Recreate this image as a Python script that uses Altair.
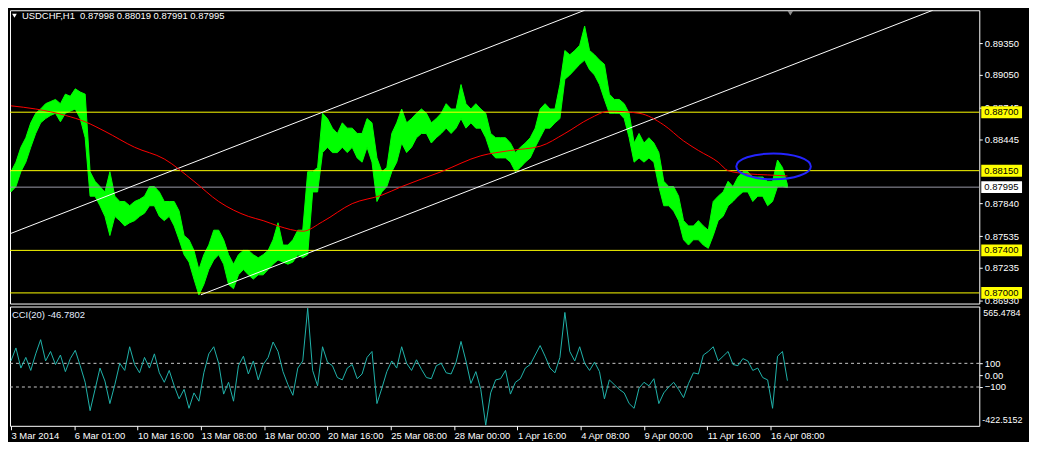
import json
import altair as alt
import pandas as pd

# ---------------- data ----------------
symbol_title = "USDCHF,H1\u00a0 0.87998 0.88019 0.87991 0.87995"

bar_index = list(range(0, 786, 5))  # hourly bar number (sampled)

price_high = [
    0.8814, 0.8823, 0.8837, 0.8846, 0.8860, 0.8869, 0.8873, 0.8878, 0.8880, 0.8882,
    0.8878, 0.8887, 0.8885, 0.8892, 0.8889, 0.8887, 0.8814, 0.8805, 0.8800, 0.8795,
    0.8814, 0.8791, 0.8786, 0.8786, 0.8782, 0.8786, 0.8788, 0.8791, 0.8800, 0.8800,
    0.8795, 0.8786, 0.8786, 0.8786, 0.8777, 0.8754, 0.8750, 0.8740, 0.8722, 0.8736,
    0.8745, 0.8759, 0.8759, 0.8750, 0.8736, 0.8727, 0.8736, 0.8740, 0.8740, 0.8736,
    0.8733, 0.8736, 0.8740, 0.8750, 0.8766, 0.8745, 0.8745, 0.8750, 0.8759, 0.8759,
    0.8814, 0.8814, 0.8818, 0.8869, 0.8864, 0.8855, 0.8850, 0.8860, 0.8855, 0.8855,
    0.8850, 0.8850, 0.8864, 0.8860, 0.8827, 0.8814, 0.8818, 0.8850, 0.8860, 0.8873,
    0.8860, 0.8864, 0.8869, 0.8873, 0.8869, 0.8860, 0.8864, 0.8869, 0.8878, 0.8873,
    0.8873, 0.8896, 0.8878, 0.8873, 0.8878, 0.8873, 0.8869, 0.8850, 0.8846, 0.8846,
    0.8846, 0.8841, 0.8832, 0.8837, 0.8841, 0.8846, 0.8855, 0.8873, 0.8878, 0.8873,
    0.8873, 0.8896, 0.8928, 0.8924, 0.8928, 0.8933, 0.8951, 0.8928, 0.8924, 0.8919,
    0.8915, 0.8887, 0.8882, 0.8882, 0.8878, 0.8869, 0.8841, 0.8850, 0.8841, 0.8846,
    0.8841, 0.8832, 0.8805, 0.8800, 0.8800, 0.8791, 0.8768, 0.8763, 0.8763, 0.8768,
    0.8763, 0.8759, 0.8786, 0.8791, 0.8795, 0.8805, 0.8800, 0.8809, 0.8814, 0.8814,
    0.8809, 0.8809, 0.8809, 0.8805, 0.8805, 0.8825, 0.8818, 0.88019,
]
price_low = [
    0.8795, 0.8800, 0.8814, 0.8823, 0.8837, 0.8850, 0.8860, 0.8864, 0.8867, 0.8869,
    0.8861, 0.8869, 0.8871, 0.8873, 0.8864, 0.8846, 0.8791, 0.8791, 0.8782, 0.8772,
    0.8754, 0.8772, 0.8768, 0.8763, 0.8766, 0.8768, 0.8772, 0.8775, 0.8782, 0.8782,
    0.8772, 0.8768, 0.8772, 0.8763, 0.8750, 0.8736, 0.8729, 0.8713, 0.8698, 0.8708,
    0.8722, 0.8731, 0.8736, 0.8727, 0.8708, 0.8704, 0.8717, 0.8722, 0.8717, 0.8713,
    0.8717, 0.8717, 0.8722, 0.8727, 0.8731, 0.8729, 0.8727, 0.8729, 0.8736, 0.8733,
    0.8736, 0.8795, 0.8795, 0.8832, 0.8837, 0.8832, 0.8832, 0.8837, 0.8832, 0.8837,
    0.8827, 0.8823, 0.8837, 0.8823, 0.8786, 0.8795, 0.8800, 0.8814, 0.8823, 0.8841,
    0.8832, 0.8837, 0.8846, 0.8850, 0.8850, 0.8841, 0.8846, 0.8850, 0.8855, 0.8850,
    0.8855, 0.8864, 0.8855, 0.8860, 0.8855, 0.8855, 0.8846, 0.8832, 0.8827, 0.8827,
    0.8827, 0.8823, 0.8814, 0.8818, 0.8823, 0.8827, 0.8837, 0.8846, 0.8855, 0.8855,
    0.8860, 0.8864, 0.8901, 0.8905, 0.8910, 0.8915, 0.8919, 0.8910, 0.8905, 0.8896,
    0.8882, 0.8869, 0.8869, 0.8869, 0.8864, 0.8846, 0.8823, 0.8827, 0.8823, 0.8827,
    0.8823, 0.8800, 0.8782, 0.8782, 0.8777, 0.8768, 0.8750, 0.8745, 0.8750, 0.8750,
    0.8745, 0.8742, 0.8754, 0.8768, 0.8772, 0.8782, 0.8786, 0.8791, 0.8795, 0.8795,
    0.8786, 0.8791, 0.8791, 0.8782, 0.8786, 0.8800, 0.8800, 0.87991,
]

ma_index = [0, 25, 55, 75, 95, 125, 155, 185, 210, 240, 255, 270, 295, 315, 345,
            375, 395, 435, 475, 505, 535, 560, 585, 605, 635, 660, 680, 695, 715,
            725, 745, 765, 785]
ma_values = [0.8876, 0.8873, 0.8867, 0.8861, 0.8852, 0.8837, 0.8826, 0.8805, 0.8786,
             0.8772, 0.8768, 0.8763, 0.8758, 0.8767, 0.8784, 0.8792, 0.8800, 0.8814,
             0.8829, 0.8834, 0.8838, 0.8850, 0.8864, 0.8871, 0.8869, 0.8858, 0.8843,
             0.8834, 0.8823, 0.8815, 0.8812, 0.8811, 0.8810]

channel_name = ["upper", "upper", "lower", "lower"]
channel_index = [0, 580, 192, 932]
channel_price = [0.8756, 0.89659, 0.86982, 0.89659]

level_prices = [0.8870, 0.8815, 0.8740, 0.8700]
bid_price = 0.87995
ellipse_index = [771]
ellipse_price = [0.8819]

price_ticks = [0.8935, 0.8905, 0.88745, 0.88445, 0.8784, 0.87535, 0.87235, 0.8693]

cci_values = [
    120, 230, 60, 150, 40, 180, 300, 120, 200, 90,
    170, 30, 140, 210, 80, -60, -300, -120, 60, -50,
    -240, -80, 100, 40, 240, 90, 20, 150, 60, 180,
    20, -60, 40, -90, -200, -120, -280, -150, -220, 20,
    180, 240, 100, -160, -60, -220, 80, 160, 10, 120,
    -40, 90, 150, 280, 200, 30, -80, -170, 60, 120,
    565.4784, 40, -90, 240, 110, 80, -20, -40, 60, 90,
    -30, 10, 150, 200, -240, -110, 30, 120, 60, 240,
    100, 40, 130, 50, -20, -30, 80, 100, 20, 10,
    110, 285, 120, -70, 30, -120, -422.5152, -150, -40, -30,
    40, -160, -60, -30, 60, 90, 170, 250, 160, 60,
    20, 150, 530, 200, 120, 240, 100, 40, 110, 30,
    -200, -40, -80, -120, -150, -240, -280, -110, -60, -90,
    -30, -240, -150, -100, -60, -120, -190, -70, 20, 10,
    170, 200, 240, 120, 160, 200, 90, 80, 140, 120,
    40, 60, -20, -40, -280, 160, 200, -46.7802,
]
cci_levels = [100, -100]
cci_ticks = [100, 0, -100]

time_tick_index = [0, 64, 128, 192, 256, 320, 384, 448, 512, 576, 640, 704, 768]
time_tick_labels = ["3 Mar 2014", "6 Mar 01:00", "10 Mar 16:00", "13 Mar 08:00",
                    "18 Mar 00:00", "20 Mar 16:00", "25 Mar 08:00", "28 Mar 00:00",
                    "1 Apr 16:00", "4 Apr 08:00", "9 Apr 00:00", "11 Apr 16:00",
                    "16 Apr 08:00"]

# ---------------- layout / style ----------------
W = 975
H_MAIN = 295
H_CCI = 120
FONT = "Liberation Sans"
FS = 9.5

xscale = alt.Scale(domain=[-1, 979], nice=False, zero=False)
yscale = alt.Scale(domain=[0.869, 0.89659], nice=False, zero=False)
cscale = alt.Scale(domain=[-428, 580], nice=False, zero=False)

yaxis = alt.Axis(orient="right", values=price_ticks, format=".5f", tickSize=3,
                 labelPadding=2, domain=False, grid=False, title=None)
caxis = alt.Axis(orient="right", values=cci_ticks, tickSize=3, labelPadding=2,
                 domain=False, grid=False, title=None,
                 labelExpr="datum.value == 0 ? '0.00' : format(datum.value, 'd')")
xaxis_cci = alt.Axis(values=time_tick_index,
                     labelExpr=f"{json.dumps(time_tick_labels)}[indexof({json.dumps(time_tick_index)}, datum.value)]",
                     labelAlign="left", labelFlush=False, labelOverlap=False,
                     tickSize=4, labelPadding=1, domain=False, grid=False, title=None)


def X(f):
    return alt.X(f, type="quantitative", scale=xscale, axis=None)


def Y(f):
    return alt.Y(f, type="quantitative", scale=yscale, axis=yaxis)


def CY(f):
    return alt.Y(f, type="quantitative", scale=cscale, axis=caxis)


price_df = pd.DataFrame({"i": bar_index, "high": price_high, "low": price_low})
ma_df = pd.DataFrame({"i": ma_index, "ma": ma_values})
chan_df = pd.DataFrame({"line": channel_name, "i": channel_index, "p": channel_price})
lvl_df = pd.DataFrame({"p": level_prices})
bid_df = pd.DataFrame({"p": [bid_price]})
ell_df = pd.DataFrame({"i": ellipse_index, "p": ellipse_price})

area = alt.Chart(price_df).mark_area(color="#00ff00", stroke="#00ff00", strokeWidth=1,
                                     opacity=1).encode(x=X("i"), y=Y("low"), y2=alt.Y2("high"))
levels = alt.Chart(lvl_df).mark_rule(color="#ffff00", strokeWidth=1).encode(y=Y("p"))
bid = alt.Chart(bid_df).mark_rule(color="#9a9aa6", strokeWidth=1).encode(y=Y("p"))
channels = alt.Chart(chan_df).mark_line(color="white", strokeWidth=1, clip=True).encode(
    x=X("i"), y=Y("p"), detail="line:N")
ma = alt.Chart(ma_df).mark_line(color="#ff0000", strokeWidth=1, interpolate="monotone").encode(
    x=X("i"), y=Y("ma"))
ELLIPSE = "M-1,0A1,0.347,0,1,1,1,0A1,0.347,0,1,1,-1,0Z"
ellipse = alt.Chart(ell_df).mark_point(shape=ELLIPSE, size=75 * 75, filled=False,
                                       color="#2424ff", strokeWidth=2, opacity=1).encode(
    x=X("i"), y=Y("p"))

lvl_box = alt.Chart(lvl_df).mark_rule(color="#ffff00", strokeWidth=12, strokeCap="butt").encode(
    y=Y("p"), x=alt.value(W + 2), x2=alt.value(W + 43))
bid_box = alt.Chart(bid_df).mark_rule(color="white", strokeWidth=12, strokeCap="butt").encode(
    y=Y("p"), x=alt.value(W + 2), x2=alt.value(W + 43))
lvl_txt = alt.Chart(lvl_df).mark_text(align="left", baseline="middle", color="black",
                                      font=FONT, fontSize=FS).encode(
    y=Y("p"), x=alt.value(W + 5), text=alt.Text("p:Q", format=".5f"))
bid_txt = alt.Chart(bid_df).mark_text(align="left", baseline="middle", color="black",
                                      font=FONT, fontSize=FS).encode(
    y=Y("p"), x=alt.value(W + 5), text=alt.Text("p:Q", format=".5f"))

title_df = pd.DataFrame({"t": [symbol_title]})
title_txt = alt.Chart(title_df).mark_text(align="left", baseline="middle", color="white",
                                          font=FONT, fontSize=FS).encode(
    x=alt.value(12), y=alt.value(6), text="t:N")
title_tri = alt.Chart(title_df).mark_point(shape="triangle-down", filled=True, color="white",
                                           size=22, opacity=1).encode(
    x=alt.value(4.5), y=alt.value(5.5))
shift_df = pd.DataFrame({"i": [788]})
shift_tri = alt.Chart(shift_df).mark_point(shape="triangle-down", filled=True, color="#8c8c8c",
                                           size=30, opacity=1).encode(
    x=X("i"), y=alt.value(3))

main = alt.layer(area, levels, bid, channels, ma, ellipse, lvl_box, bid_box, lvl_txt,
                 bid_txt, title_txt, title_tri, shift_tri).properties(width=W, height=H_MAIN)

# ---------------- CCI panel ----------------
cci_df = pd.DataFrame({"i": bar_index, "cci": cci_values})
clv_df = pd.DataFrame({"lv": cci_levels})

cci_lv = alt.Chart(clv_df).mark_rule(color="#c8c8c8", strokeWidth=1, strokeDash=[3, 3]).encode(
    y=CY("lv"))
cci_line = alt.Chart(cci_df).mark_line(color="#20b2aa", strokeWidth=1).encode(
    x=alt.X("i", type="quantitative", scale=xscale, axis=xaxis_cci), y=CY("cci"))
cci_title_df = pd.DataFrame({"t": [f"CCI(20) {cci_values[-1]:.4f}"]})
cci_title = alt.Chart(cci_title_df).mark_text(align="left", baseline="middle", color="#e4ecff",
                                              font=FONT, fontSize=FS).encode(
    x=alt.value(2), y=alt.value(9), text="t:N")
max_df = pd.DataFrame({"t": [f"{max(cci_values):.4f}"]})
min_df = pd.DataFrame({"t": [f"{min(cci_values):.4f}"]})
cci_max_txt = alt.Chart(max_df).mark_text(align="left", baseline="middle", color="white",
                                          font=FONT, fontSize=9).encode(
    x=alt.value(W + 4), y=alt.value(7), text="t:N")
cci_min_txt = alt.Chart(min_df).mark_text(align="left", baseline="middle", color="white",
                                          font=FONT, fontSize=9).encode(
    x=alt.value(W + 3), y=alt.value(H_CCI - 6), text="t:N")

cci = alt.layer(cci_lv, cci_line, cci_title, cci_max_txt, cci_min_txt).properties(
    width=W, height=H_CCI)

chart = alt.vconcat(main, cci, spacing=3, bounds="flush").properties(
    padding=0, background="#000000"
).configure_view(
    stroke="white", strokeWidth=1, fill="#000000"
).configure_axis(
    labelFont=FONT, labelFontSize=FS, labelColor="white", tickColor="white", tickWidth=1
)

chart.save("out.html", embed_options={"renderer": "svg", "actions": False})
